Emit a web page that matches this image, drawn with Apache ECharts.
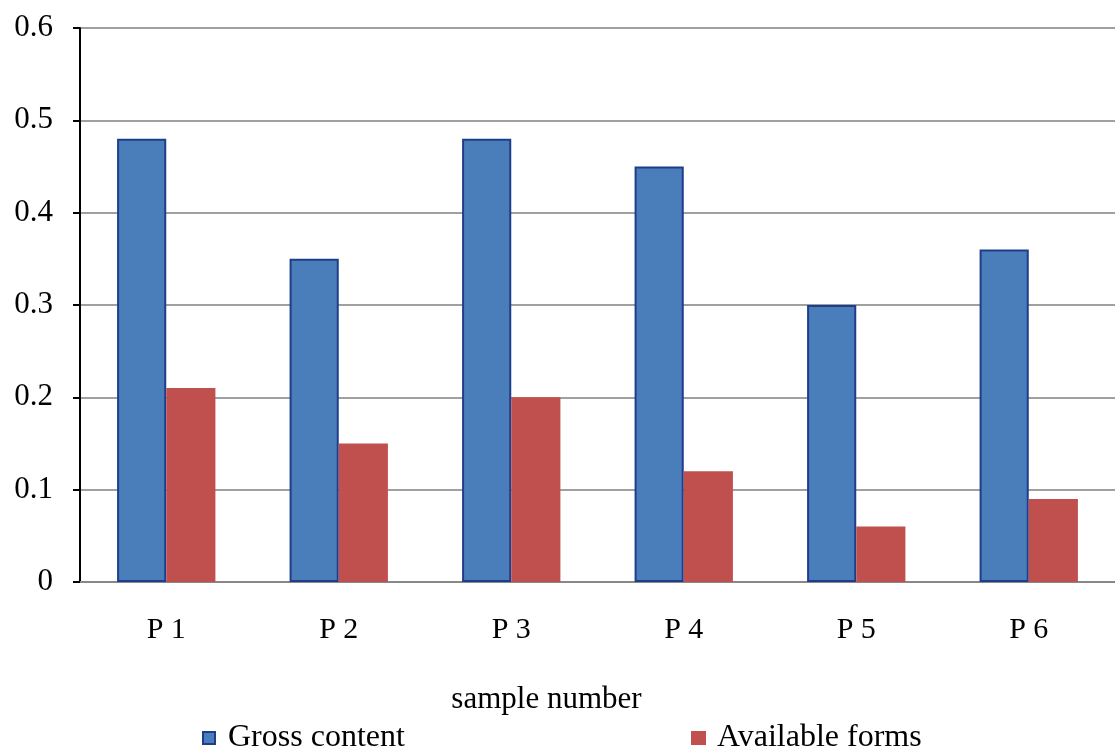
<!DOCTYPE html>
<html><head><meta charset="utf-8">
<script src="https://cdn.jsdelivr.net/npm/echarts@6/dist/echarts.min.js"></script>
<style>html,body{margin:0;padding:0;background:#fff}#c{width:1115px;height:751px}</style>
</head><body><div id="c"></div>
<script>
var categories = ['P 1','P 2','P 3','P 4','P 5','P 6'];
var grossContent = [0.48, 0.35, 0.48, 0.45, 0.30, 0.36];
var availableForms = [0.21, 0.15, 0.20, 0.12, 0.06, 0.09];
var yTicks = [0, 0.1, 0.2, 0.3, 0.4, 0.5, 0.6];

var font = 'Liberation Serif';
var chart = echarts.init(document.getElementById('c'));
chart.setOption({
  animation: false,
  textStyle: {fontFamily: font, color: '#000'},
  grid: {left: 80, right: 0, top: 28, bottom: 169},
  legend: [{
    data: ['Gross content'], left: 202, top: 722, icon: 'rect', itemWidth: 12, itemHeight: 12, padding: 0,
    textStyle: {fontFamily: font, fontSize: 32, color: '#000', padding: [0,0,0,8]}
  },{
    data: ['Available forms'], left: 691, top: 722, icon: 'rect', itemWidth: 15, itemHeight: 14, padding: 0,
    textStyle: {fontFamily: font, fontSize: 32, color: '#000', padding: [0,0,0,6]}
  }],
  xAxis: {
    type: 'category', data: categories,
    name: 'sample number', nameLocation: 'middle', nameGap: 102,
    nameTextStyle: {fontFamily: font, fontSize: 31, color: '#000', padding: [0, 102, 0, 0]},
    axisLine: {lineStyle: {color: '#888', width: 2}},
    axisTick: {show: false},
    axisLabel: {fontFamily: font, fontSize: 30, color: '#000', margin: 33}
  },
  yAxis: {
    type: 'value', min: 0, max: 0.6, interval: 0.1,
    axisLine: {show: true, lineStyle: {color: '#000', width: 2}},
    axisTick: {show: true, inside: false, length: 7, lineStyle: {color: '#000', width: 2}},
    axisLabel: {fontFamily: font, fontSize: 31, color: '#000', margin: 27,
      formatter: function(v){ return yTicks.indexOf(Math.round(v*10)/10) >= 0 ? String(Math.round(v*10)/10) : ''; }},
    splitLine: {lineStyle: {color: '#808080', width: 1.5}}
  },
  series: [{
    name: 'Gross content', type: 'bar', data: grossContent,
    barGap: '0%', barCategoryGap: '43%',
    itemStyle: {color: '#4a7ebb', borderColor: '#1f3d8a', borderWidth: 2}
  },{
    name: 'Available forms', type: 'bar', data: availableForms,
    itemStyle: {color: '#c0504d', borderColor: '#c0504d', borderWidth: 0}
  }]
});
</script></body></html>
